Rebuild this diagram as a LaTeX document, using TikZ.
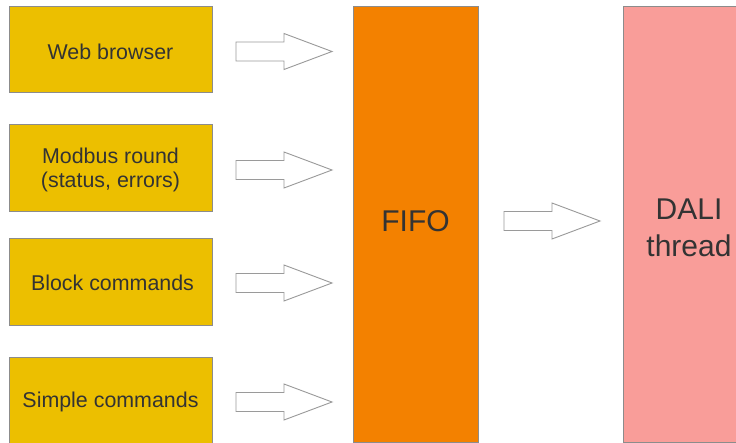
\documentclass[tikz,border=0pt]{standalone}
\usepackage{fontspec}
\setmainfont{Liberation Sans}
\definecolor{boxyellow}{HTML}{ECBF00}
\definecolor{fifoorange}{HTML}{F38100}
\definecolor{dalipink}{HTML}{F99D99}
\definecolor{edgegray}{HTML}{8C8C8C}
\definecolor{txtgray}{HTML}{333333}
\definecolor{arrgray}{HTML}{9A9A9A}
\begin{document}
\begin{tikzpicture}[x=1pt,y=1pt,
  srcbox/.style={draw=edgegray, line width=0.9pt, fill=boxyellow, minimum width=203pt, minimum height=86pt, inner sep=0pt},
  srctext/.style={align=center, text=txtgray, font=\fontsize{21.4}{23.5}\selectfont, inner sep=0pt},
  bigbox/.style={draw=edgegray, line width=0.9pt, minimum height=436pt, inner sep=0pt},
  bigtext/.style={align=center, text=txtgray, font=\fontsize{30}{37}\selectfont, inner sep=0pt},
  blockarr/.pic={\draw[draw=arrgray, line width=0.9pt, fill=white] (0,-9.5) -- (48,-9.5) -- (48,-18) -- (96,0) -- (48,18) -- (48,9.5) -- (0,9.5) -- cycle;}
]
\useasboundingbox (0,0) rectangle (736,443);
\fill[white] (0,0) rectangle (736,443);
\node[srcbox, label={[srctext, yshift=-2.5pt]center:Web browser}] (web) at (110.5,394) {};
\node[srcbox, minimum height=87pt, label={[srctext, yshift=-2.5pt]center:Modbus round\\(status, errors)}] (modbus) at (110.5,275.5) {};
\node[srcbox, minimum height=87pt, label={[srctext, yshift=-1.5pt, xshift=2pt]center:Block commands}] (block) at (110.5,161.5) {};
\node[srcbox, minimum height=87pt, label={[srctext, yshift=-1.5pt]center:Simple commands}] (simple) at (110.5,42.5) {};
\node[bigbox, fill=fifoorange, minimum width=125pt, label={[bigtext, yshift=2.5pt]center:FIFO}] (fifo) at (415.5,219) {};
\node[bigbox, fill=dalipink, minimum width=132pt, label={[bigtext, yshift=-3.5pt]center:DALI\\thread}] (dali) at (689,219) {};
\pic at (236,391.5) {blockarr};
\pic at (236,273) {blockarr};
\pic at (236,160) {blockarr};
\pic at (236,41) {blockarr};
\pic at (504,222) {blockarr};
\end{tikzpicture}
\end{document}
